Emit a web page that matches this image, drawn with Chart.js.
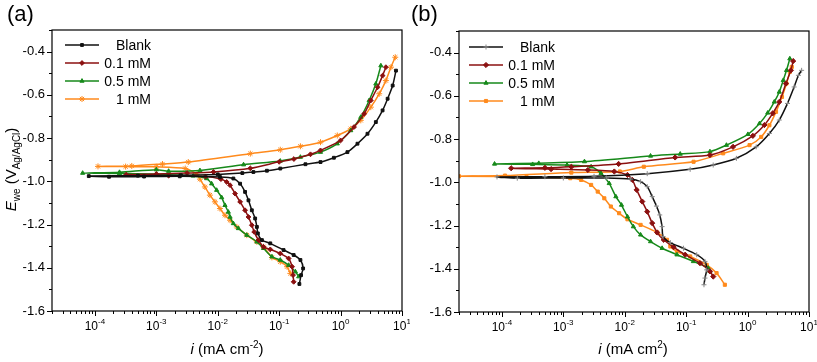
<!DOCTYPE html>
<html>
<head>
<meta charset="utf-8">
<script src="https://cdn.jsdelivr.net/npm/chart.js@4/dist/chart.umd.min.js"></script>
<style>
html,body{margin:0;padding:0;background:#fff;}
#wrap{position:relative;width:817px;height:362px;overflow:hidden;}
canvas{position:absolute;top:0;}
#ca{left:0;}
#cb{left:410px;}
</style>
</head>
<body>
<div id="wrap">
  <canvas id="ca" width="410" height="362"></canvas>
  <canvas id="cb" width="407" height="362"></canvas>
</div>
<script>
// log10 of current density (mA cm-2) and potential (V vs Ag/AgCl)
const seriesNames = ['Blank', '0.1 mM', '0.5 mM', '1 mM'];
const decades = [-4, -3, -2, -1, 0, 1];
const yTicks = [-1.6, -1.4, -1.2, -1.0, -0.8, -0.6, -0.4];

// panel (a)
const aBlankLogI = [-0.671,-0.643,-0.610,-0.654,-0.764,-0.928,-1.145,-1.281,-1.347,-1.363,-1.391,-1.445,-1.500,-1.555,-1.636,-1.746,-1.964,-2.619,-3.200,-3.770,-4.100,-3.300,-2.600,-2.000,-1.600,-1.420,-1.200,-0.982,-0.572,-0.327,-0.109,0.111,0.275,0.438,0.574,0.684,0.766,0.848,0.902];
const aBlankE    = [-1.475,-1.434,-1.403,-1.364,-1.341,-1.318,-1.287,-1.272,-1.241,-1.211,-1.172,-1.134,-1.088,-1.049,-1.011,-0.987,-0.980,-0.977,-0.978,-0.979,-0.976,-0.974,-0.972,-0.968,-0.962,-0.957,-0.951,-0.941,-0.921,-0.911,-0.891,-0.865,-0.826,-0.780,-0.726,-0.672,-0.618,-0.557,-0.488];
const aRedLogI   = [-0.764,-0.774,-0.790,-0.846,-0.982,-1.145,-1.255,-1.337,-1.407,-1.445,-1.500,-1.555,-1.636,-1.718,-1.800,-1.855,-1.950,-2.200,-2.800,-3.490,-3.000,-2.500,-2.070,-1.470,-1.000,-0.760,-0.490,-0.327,0.000,0.219,0.383,0.492,0.602,0.684,0.738];
const aRedE      = [-1.465,-1.434,-1.395,-1.357,-1.334,-1.315,-1.303,-1.272,-1.234,-1.203,-1.165,-1.134,-1.095,-1.057,-1.018,-1.003,-0.990,-0.978,-0.974,-0.969,-0.966,-0.962,-0.957,-0.940,-0.910,-0.897,-0.875,-0.857,-0.811,-0.749,-0.688,-0.626,-0.565,-0.511,-0.472];
const aGreenLogI = [-0.682,-0.736,-0.846,-0.982,-1.118,-1.255,-1.363,-1.527,-1.664,-1.746,-1.800,-1.828,-1.882,-1.936,-2.018,-2.100,-2.182,-2.400,-3.000,-3.600,-4.200,-3.600,-3.000,-2.800,-2.290,-1.580,-0.982,-0.654,-0.327,-0.054,0.165,0.329,0.465,0.574,0.656];
const aGreenE    = [-1.441,-1.418,-1.388,-1.364,-1.349,-1.310,-1.280,-1.249,-1.218,-1.195,-1.165,-1.142,-1.111,-1.075,-1.041,-1.011,-0.987,-0.975,-0.967,-0.964,-0.962,-0.958,-0.946,-0.953,-0.950,-0.923,-0.906,-0.888,-0.865,-0.826,-0.765,-0.703,-0.626,-0.549,-0.465];
const aOrangeLogI= [-0.818,-0.872,-0.982,-1.118,-1.255,-1.363,-1.527,-1.690,-1.800,-1.882,-1.964,-2.046,-2.128,-2.210,-2.290,-2.340,-2.530,-3.000,-3.500,-3.950,-3.400,-2.900,-2.480,-1.470,-0.982,-0.654,-0.327,-0.054,0.165,0.329,0.492,0.629,0.738,0.820,0.890];
const aOrangeE   = [-1.426,-1.395,-1.372,-1.352,-1.303,-1.280,-1.249,-1.211,-1.180,-1.157,-1.126,-1.095,-1.064,-1.026,-0.990,-0.968,-0.941,-0.933,-0.932,-0.931,-0.929,-0.920,-0.911,-0.872,-0.854,-0.838,-0.819,-0.788,-0.757,-0.718,-0.657,-0.595,-0.534,-0.472,-0.426];

// panel (b)
const bBlankLogI = [-0.710,-0.694,-0.666,-0.694,-0.828,-1.044,-1.258,-1.376,-1.392,-1.430,-1.484,-1.553,-1.634,-1.742,-1.903,-2.300,-3.000,-3.750,-4.080,-3.300,-2.500,-1.634,-0.935,-0.560,-0.182,0.140,0.355,0.516,0.650,0.758,0.828,0.880];
const bBlankE    = [-1.474,-1.443,-1.405,-1.366,-1.335,-1.305,-1.279,-1.251,-1.205,-1.151,-1.110,-1.066,-1.020,-0.997,-0.985,-0.980,-0.980,-0.981,-0.975,-0.974,-0.972,-0.960,-0.940,-0.920,-0.889,-0.836,-0.774,-0.712,-0.635,-0.559,-0.505,-0.482];
const bRedLogI   = [-0.559,-0.613,-0.774,-1.016,-1.205,-1.366,-1.473,-1.553,-1.634,-1.715,-1.806,-1.876,-1.956,-2.170,-2.600,-3.200,-3.850,-3.300,-2.870,-2.100,-1.180,-0.613,-0.237,0.086,0.274,0.409,0.516,0.624,0.705,0.742];
const bRedE      = [-1.436,-1.412,-1.374,-1.335,-1.300,-1.266,-1.232,-1.189,-1.136,-1.089,-1.035,-0.989,-0.966,-0.950,-0.943,-0.939,-0.935,-0.933,-0.928,-0.915,-0.885,-0.874,-0.836,-0.785,-0.735,-0.681,-0.628,-0.543,-0.482,-0.439];
const bGreenLogI = [-0.613,-0.640,-0.882,-1.150,-1.392,-1.580,-1.742,-1.860,-1.956,-2.053,-2.145,-2.253,-2.387,-2.548,-2.940,-3.500,-4.120,-3.400,-2.656,-1.580,-1.097,-0.613,-0.344,0.005,0.194,0.328,0.435,0.516,0.581,0.634,0.688];
const bGreenE    = [-1.412,-1.397,-1.366,-1.335,-1.305,-1.274,-1.243,-1.205,-1.159,-1.105,-1.066,-1.005,-0.958,-0.928,-0.920,-0.917,-0.915,-0.912,-0.904,-0.878,-0.869,-0.858,-0.828,-0.778,-0.728,-0.679,-0.628,-0.582,-0.528,-0.482,-0.428];
const bOrangeLogI= [-0.370,-0.505,-0.666,-0.935,-1.150,-1.258,-1.312,-1.473,-1.742,-1.956,-2.092,-2.226,-2.333,-2.440,-2.548,-2.710,-2.887,-3.600,-4.700,-3.950,-2.870,-2.080,-1.690,-0.880,-0.398,0.032,0.221,0.355,0.463,0.560,0.634,0.688,0.720];
const bOrangeE   = [-1.474,-1.420,-1.382,-1.343,-1.320,-1.297,-1.266,-1.232,-1.197,-1.171,-1.143,-1.112,-1.074,-1.043,-1.012,-0.989,-0.981,-0.975,-0.972,-0.969,-0.955,-0.950,-0.928,-0.905,-0.866,-0.828,-0.790,-0.736,-0.674,-0.605,-0.543,-0.489,-0.466];

const colors = ['#111111', '#8b1010', '#16891a', '#ff8a1c'];
const FONT = 'Liberation Sans, Arial, sans-serif';
Chart.defaults.font.family = FONT;

function q(id){ return document.getElementById(id); }
function pts(lg, e){ return lg.map((v, k) => ({ x: Math.pow(10, v), y: e[k] })); }

// draws text pieces in a row: [text, size, italic, dy]
function runs(c, parts, x, y, align){
  const w = parts.map(p => { c.font = `${p[2] ? 'italic ' : ''}${p[1]}px ${FONT}`; return c.measureText(p[0]).width; });
  const tot = w.reduce((s, v) => s + v, 0);
  let cx = align === 'center' ? x - tot / 2 : x;
  parts.forEach((p, k) => {
    c.font = `${p[2] ? 'italic ' : ''}${p[1]}px ${FONT}`;
    c.fillText(p[0], cx, y + (p[3] || 0));
    cx += w[k];
  });
}

const panelPlugin = {
  id: 'panel',
  afterDraw(chart, args, o){
    const c = chart.ctx, a = chart.chartArea, xs = chart.scales.x, ys = chart.scales.y;
    c.save();
    c.strokeStyle = '#000';
    c.fillStyle = '#000';
    c.lineWidth = 1.2;
    c.strokeRect(a.left, a.top, a.right - a.left, a.bottom - a.top);
    c.lineWidth = 1;
    c.beginPath();
    for(let v = -16; v <= -3; v++){
      const y = Math.round(ys.getPixelForValue(v / 10)) + 0.5;
      const len = v % 2 === 0 ? 5 : 3;
      c.moveTo(a.left - len, y); c.lineTo(a.left, y);
    }
    for(let d = -5; d <= 1; d++){
      for(let m = 1; m <= 9; m++){
        const val = m * Math.pow(10, d);
        if(val < xs.min * 0.999 || val > xs.max * 1.001) continue;
        const x = Math.round(xs.getPixelForValue(val)) + 0.5;
        const len = m === 1 ? 5 : 3;
        c.moveTo(x, a.bottom); c.lineTo(x, a.bottom + len);
      }
    }
    c.stroke();

    // decade labels
    c.textBaseline = 'alphabetic';
    decades.forEach(d => {
      const x = xs.getPixelForValue(Math.pow(10, d));
      runs(c, [['10', 12, false, 0], [String(d).replace('-', '-'), 8, false, -6]], x, a.bottom + 19, 'center');
    });

    // axis titles
    runs(c, o.xTitle, (a.left + a.right) / 2 + o.xTitleShift, 354, 'center');
    if(o.yTitle){
      c.save();
      c.translate(16, (a.top + a.bottom) / 2 - 1);
      c.rotate(-Math.PI / 2);
      runs(c, o.yTitle, 0, 0, 'center');
      c.restore();
    }

    // panel letter
    c.font = `22px ${FONT}`;
    c.textAlign = 'left';
    c.fillText(o.letter, o.letterX, 21);

    // legend
    chart.data.datasets.forEach((ds, k) => {
      const y = o.legY[k];
      c.strokeStyle = ds.borderColor;
      c.lineWidth = 1.6;
      c.beginPath(); c.moveTo(o.legX0, y); c.lineTo(o.legX1, y); c.stroke();
      c.fillStyle = ds.backgroundColor;
      c.strokeStyle = ds.pointBorderColor || ds.borderColor;
      c.lineWidth = 1;
      Chart.helpers.drawPoint(c, { pointStyle: ds.pointStyle, radius: ds.pointRadius, borderWidth: 1, rotation: 0 }, (o.legX0 + o.legX1) / 2, y);
      c.fillStyle = '#000';
      c.font = `14px ${FONT}`;
      c.textAlign = 'right';
      c.textBaseline = 'middle';
      c.fillText(ds.label, o.legTX, y + 1);
      c.textAlign = 'left';
      c.textBaseline = 'alphabetic';
    });
    c.restore();
  }
};

function makePanel(id, sets, styles, o){
  return new Chart(q(id), {
    type: 'scatter',
    data: {
      datasets: sets.map((s, k) => ({
        label: seriesNames[k],
        data: pts(s[0], s[1]),
        showLine: true,
        borderColor: colors[k],
        backgroundColor: colors[k],
        pointBorderColor: styles[k].pc || colors[k],
        borderWidth: 1.5,
        pointStyle: styles[k].ps,
        pointRadius: styles[k].r,
        pointBorderWidth: 1,
        pointHoverRadius: 0,
        tension: 0.25
      }))
    },
    options: {
      responsive: false,
      animation: false,
      events: [],
      layout: { padding: { top: o.top, right: o.right, left: 0, bottom: 0 } },
      plugins: { legend: { display: false }, tooltip: { enabled: false }, panel: o },
      scales: {
        x: {
          type: 'logarithmic', min: 2e-5, max: 10,
          grid: { display: false, drawTicks: false },
          border: { display: false },
          ticks: { display: false },
          afterBuildTicks: s => { s.ticks = decades.map(d => ({ value: Math.pow(10, d) })); },
          afterFit: s => { s.height = o.xh; }
        },
        y: {
          type: 'linear', min: -1.6, max: -0.3,
          grid: { display: false, drawTicks: false },
          border: { display: false },
          ticks: { color: '#000', font: { size: 13 }, padding: 7, callback: v => v.toFixed(1) },
          afterBuildTicks: s => { s.ticks = yTicks.map(v => ({ value: v })); },
          afterFit: s => { s.width = o.yw; }
        }
      }
    },
    plugins: [panelPlugin]
  });
}

makePanel('ca',
  [[aBlankLogI, aBlankE], [aRedLogI, aRedE], [aGreenLogI, aGreenE], [aOrangeLogI, aOrangeE]],
  [{ ps: 'rect', r: 2 }, { ps: 'rectRot', r: 2.4 }, { ps: 'triangle', r: 2.4 }, { ps: 'star', r: 3 }],
  {
    top: 30, right: 8, yw: 52, xh: 51,
    letter: '(a)', letterX: 7,
    legX0: 65, legX1: 99, legTX: 151, legY: [45, 63, 81, 99],
    xTitleShift: 0,
    xTitle: [['i', 15, true, 0], [' (mA cm', 15, false, 0], ['-2', 10, false, -6], [')', 15, false, 0]],
    yTitle: [['E', 15, true, 0], ['we', 10, false, 4], [' (V', 15, false, 0], ['Ag/AgCl', 10, false, 4], [')', 15, false, 0]]
  });

makePanel('cb',
  [[bBlankLogI, bBlankE], [bRedLogI, bRedE], [bGreenLogI, bGreenE], [bOrangeLogI, bOrangeE]],
  [{ ps: 'cross', r: 2.5, pc: '#888888' }, { ps: 'rectRot', r: 2.6 }, { ps: 'triangle', r: 2.4 }, { ps: 'rect', r: 2.2 }],
  {
    top: 31, right: 8, yw: 49, xh: 50,
    letter: '(b)', letterX: 1,
    legX0: 59, legX1: 93, legTX: 145, legY: [47, 65, 83, 101],
    xTitleShift: -1,
    xTitle: [['i', 15, true, 0], [' (mA cm', 15, false, 0], ['2', 10, false, -6], [')', 15, false, 0]],
    yTitle: null
  });
</script>
</body>
</html>
